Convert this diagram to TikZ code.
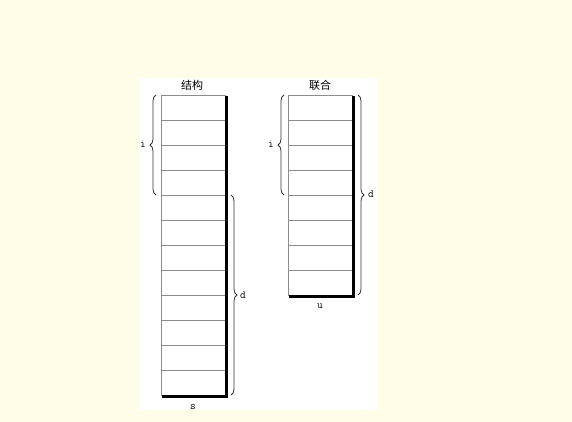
\documentclass[tikz,border=0pt]{standalone}
\usepackage{fontspec}
\newfontfamily\cjk{Noto Sans CJK SC}
\usetikzlibrary{decorations.pathreplacing}
\definecolor{bgyellow}{HTML}{FFFDE8}
\definecolor{rowgray}{HTML}{8C8C8C}
\tikzset{
  cell/.style={draw=rowgray, line width=0.7pt, fill=white},
  shadow/.style={line width=2.8pt, black},
  brc/.style={decorate, decoration={brace, amplitude=6pt}, line width=0.8pt, black!80},
  lab/.style={font=\ttfamily\fontsize{11}{13}\selectfont, inner sep=1pt},
  title/.style={font=\cjk\fontsize{11}{13}\selectfont, inner sep=1pt}
}
\begin{document}
\begin{tikzpicture}[x=1pt,y=-1pt]
\useasboundingbox (0,0) rectangle (572,422);
\fill[bgyellow] (0,0) rectangle (572,422);
\fill[white] (140,78) rectangle (377,410);
% struct column
\foreach \k in {0,...,11} {
  \draw[cell] (161,95+25*\k) rectangle (225,120+25*\k);
}
\draw[shadow] (226.3,96) -- (226.3,396.3) -- (162,396.3);
% union column
\foreach \k in {0,...,7} {
  \draw[cell] (288,95+25*\k) rectangle (352,120+25*\k);
}
\draw[shadow] (353.3,96) -- (353.3,296.3) -- (289,296.3);
% coordinates for braces
\coordinate (si1) at (156,195);
\coordinate (si2) at (156,95);
\coordinate (sd1) at (231,195);
\coordinate (sd2) at (231,395);
\coordinate (ui1) at (284,195);
\coordinate (ui2) at (284,95);
\coordinate (ud1) at (358,95);
\coordinate (ud2) at (358,295);
\draw[brc] (si1) -- (si2);
\draw[brc] (sd1) -- (sd2);
\draw[brc] (ui1) -- (ui2);
\draw[brc] (ud1) -- (ud2);
\node[lab] (li) at (143,144) {i};
\node[lab] (ld) at (243,295) {d};
\node[lab] (lui) at (271,144) {i};
\node[lab] (lud) at (371,194) {d};
\node[lab] (ls) at (193,407) {s};
\node[lab] (lu) at (320,306) {u};
\node[title] (ts) at (192,85) {结构};
\node[title] (tu) at (320,85) {联合};
\end{tikzpicture}
\end{document}
